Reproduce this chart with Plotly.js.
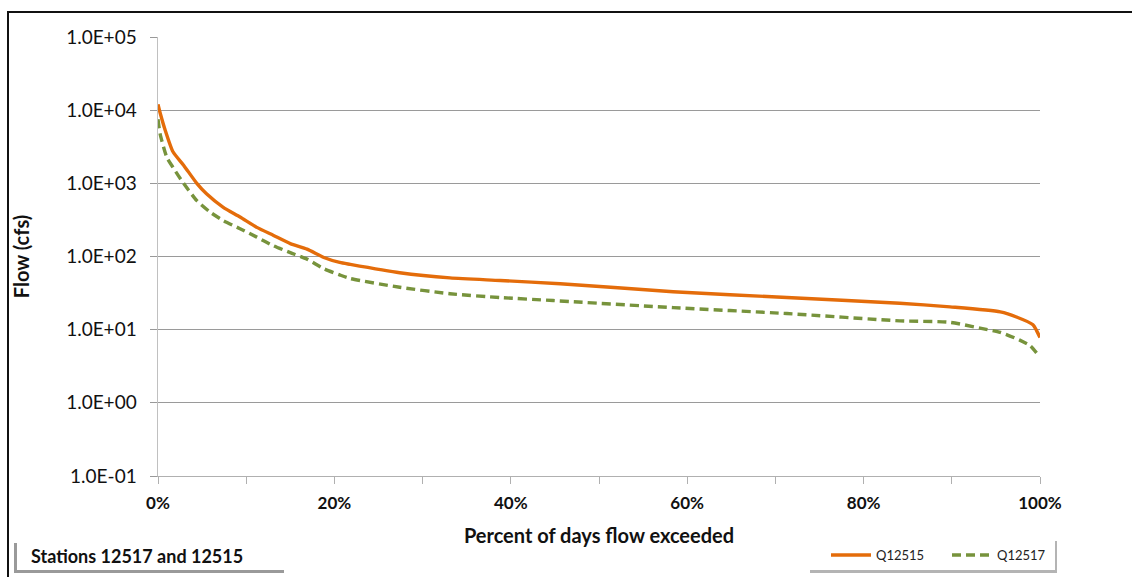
<!DOCTYPE html>
<html>
<head>
<meta charset="utf-8">
<script src="https://cdn.plot.ly/plotly-3.0.1.min.js"></script>
<style>html,body{margin:0;padding:0;background:#fff;}#chart{width:1132px;height:577px;}</style>
</head>
<body>
<div id="chart"></div>
<script>
// Percent of days flow exceeded (x) and flow in cfs (y)
const q12515Pct  = [0, 0.23, 0.8, 1.7, 2.9, 4.4, 5.5, 7.4, 9.3, 11.2, 13.1, 15.0, 16.9, 18.8, 20.6, 21.8, 27.4, 33.1, 38.8, 45.6, 58.4, 71.3, 84.1, 89.8, 95.5, 97.4, 99.2, 99.6, 100];
const q12515Flow = [12000, 9300, 5400, 2700, 1770, 1000, 720, 470, 347, 250, 194, 150, 126, 97, 83, 78, 60, 51, 47, 42.5, 33, 27.5, 23, 20.5, 17.5, 14.8, 11.7, 9.8, 7.8];
const q12517Pct  = [0, 0.23, 0.98, 1.7, 2.9, 4.4, 5.9, 7.4, 9.3, 11.2, 13.1, 15.0, 16.9, 18.8, 20.6, 21.8, 27.4, 33.1, 38.8, 44.8, 58.4, 71.3, 84.1, 89.8, 93.2, 95.5, 97.7, 98.9, 100];
const q12517Flow = [7500, 4800, 2300, 1650, 1000, 580, 405, 310, 240, 184, 140, 113, 92, 68, 56, 50, 38, 31, 27.5, 25, 20, 16.6, 13.2, 12.6, 10.5, 9.2, 7.2, 6.0, 4.2];

const yTickVals = [0.1, 1, 10, 100, 1000, 10000, 100000];
const yTickText = ["1.0E-01", "1.0E+00", "1.0E+01", "1.0E+02", "1.0E+03", "1.0E+04", "1.0E+05"];
const xTickVals = [0, 20, 40, 60, 80, 100];
const xTickText = ["0%", "20%", "40%", "60%", "80%", "100%"];
const seriesNames = ["Q12515", "Q12517"];
const noteText = "Stations 12517 and 12515";

const W = 1132, H = 577, L = 158, R = 92, T = 37, B = 101;
const pw = W - L - R, ph = H - T - B;
const px = v => (v - L) / pw;
const py = v => (H - B - v) / ph;

const traces = [
  {x: q12515Pct, y: q12515Flow, name: seriesNames[0], type: 'scatter', mode: 'lines',
   line: {color: '#E46C0A', width: 3.4, shape: 'spline', smoothing: 0.6}},
  {x: q12517Pct, y: q12517Flow, name: seriesNames[1], type: 'scatter', mode: 'lines',
   line: {color: '#77933C', width: 3.4, dash: '9px,5px', shape: 'spline', smoothing: 0.6}}
];

const font = 'Lato, "Open Sans", sans-serif';
const layout = {
  width: W, height: H,
  margin: {l: L, r: R, t: T, b: B, autoexpand: false},
  paper_bgcolor: '#fff', plot_bgcolor: '#fff',
  font: {family: font, color: '#000'},
  showlegend: true,
  legend: {orientation: 'h', x: px(826), y: py(555), xanchor: 'left', yanchor: 'middle',
           bgcolor: 'rgba(0,0,0,0)', font: {size: 13, family: font, color: '#222'}, itemwidth: 40,
           entrywidth: 66, entrywidthmode: 'pixels', tracegroupgap: 0},
  xaxis: {range: [0, 100], tickvals: xTickVals, ticktext: xTickText, ticks: 'outside', ticklen: 7,
          tickcolor: '#b0b0b0', showline: true, linecolor: '#b0b0b0', linewidth: 1,
          showgrid: false, zeroline: false, fixedrange: true, ticklabelstandoff: 5,
          minor: {tickvals: [10, 30, 50, 70, 90], ticks: 'outside', ticklen: 7, tickcolor: '#b0b0b0', showgrid: false},
          tickfont: {size: 17, family: font, color: '#111', weight: 'bold'},
          title: {text: '<b>Percent of days flow exceeded</b>', font: {size: 20, family: font, color: '#111'}, standoff: 16}},
  yaxis: {type: 'log', range: [-1, 5], tickvals: yTickVals, ticktext: yTickText, ticks: 'outside', ticklen: 7,
          tickcolor: '#999', showline: true, linecolor: '#c0c0c0', linewidth: 1.5,
          showgrid: true, gridcolor: '#9a9a9a', gridwidth: 1, zeroline: false, fixedrange: true,
          ticklabelstandoff: 9,
          tickfont: {size: 19, family: font, color: '#111'},
          title: {text: '<b>Flow (cfs)</b>', font: {size: 20, family: font, color: '#111'}, standoff: 31}},
  shapes: [
    // outer chart frame (top and left edges visible)
    {type: 'rect', xref: 'paper', yref: 'paper', x0: px(8), x1: px(1160), y0: py(600), y1: py(12),
     line: {color: '#111', width: 2}, fillcolor: 'rgba(0,0,0,0)', layer: 'below'},
    // note box shadow and box
    {type: 'rect', xref: 'paper', yref: 'paper', x0: px(14), x1: px(284), y0: py(573), y1: py(543),
     line: {width: 0}, fillcolor: '#9a9a9a'},
    {type: 'rect', xref: 'paper', yref: 'paper', x0: px(17), x1: px(287), y0: py(570), y1: py(539),
     line: {width: 0}, fillcolor: '#ffffff'},
    // legend box shadow and box
    {type: 'rect', xref: 'paper', yref: 'paper', x0: px(810), x1: px(1057), y0: py(573), y1: py(541),
     line: {width: 0}, fillcolor: '#b4b4b4'},
    {type: 'rect', xref: 'paper', yref: 'paper', x0: px(808), x1: px(1055), y0: py(570), y1: py(537),
     line: {width: 0}, fillcolor: '#ffffff'}
  ],
  annotations: [
    {xref: 'paper', yref: 'paper', x: px(29), y: py(556), xanchor: 'left', yanchor: 'middle',
     text: '<b>' + noteText + '</b>', showarrow: false, font: {size: 18, family: font, color: '#111'}}
  ]
};

Plotly.newPlot('chart', traces, layout, {displayModeBar: false, staticPlot: true});
</script>
</body>
</html>
